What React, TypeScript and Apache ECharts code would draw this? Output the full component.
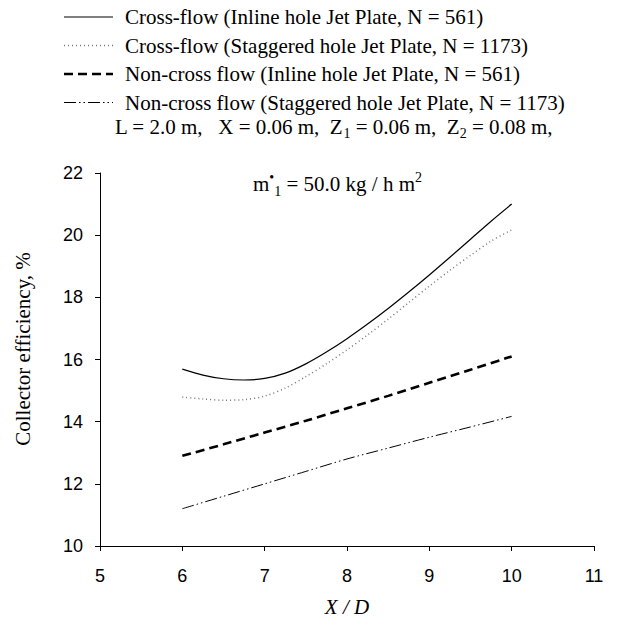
import React, { useEffect, useRef } from "react";
import * as echarts from "echarts";

// X/D positions for the two strongly curved cross-flow series
const xFine = [6, 6.25, 6.5, 6.75, 7, 7.25, 7.5, 7.75, 8, 8.25, 8.5, 8.75, 9, 9.25, 9.5, 9.75, 10];
// X/D positions for the nearly straight non-cross flow series
const xCoarse = [6, 6.5, 7, 7.5, 8, 8.5, 9, 9.5, 10];

// Collector efficiency (%) for each configuration
const crossInline = [15.69, 15.5, 15.38, 15.34, 15.39, 15.56, 15.86, 16.24, 16.67, 17.14, 17.64, 18.17, 18.72, 19.29, 19.87, 20.45, 21.0];
const crossStaggered = [14.79, 14.73, 14.69, 14.71, 14.82, 15.08, 15.45, 15.86, 16.31, 16.79, 17.3, 17.83, 18.36, 18.87, 19.35, 19.81, 20.17];
const nonCrossInline = [12.9, 13.27, 13.65, 14.03, 14.43, 14.83, 15.25, 15.67, 16.1];
const nonCrossStaggered = [11.2, 11.6, 12.0, 12.4, 12.8, 13.15, 13.5, 13.83, 14.17];

const seriesNames = [
  "Cross-flow (Inline hole Jet Plate, N = 561)",
  "Cross-flow (Staggered hole Jet Plate, N = 1173)",
  "Non-cross flow (Inline hole Jet Plate, N = 561)",
  "Non-cross flow (Staggered hole Jet Plate, N = 1173)",
];

const serif = "'Liberation Serif', 'Times New Roman', serif";
const sans = "'Liberation Sans', Arial, sans-serif";

const styles = [
  { color: "#000", width: 1.2, dash: null as number[] | null },
  { color: "#777", width: 1.5, dash: [1, 3] },
  { color: "#000", width: 2.6, dash: [9, 5] },
  { color: "#000", width: 1, dash: [12, 3, 1.5, 3, 1.5, 3] },
];

const pairs = (xs: number[], ys: number[]) => xs.map((x, i) => [x, ys[i]]);

export default function App() {
  const ref = useRef<HTMLDivElement>(null);

  useEffect(() => {
    if (!ref.current) return;
    const chart = echarts.init(ref.current, null, { renderer: "svg" });

    const rich = {
      n: { fontFamily: serif, fontSize: 21, lineHeight: 28, color: "#000" },
      sub: { fontFamily: serif, fontSize: 14, lineHeight: 14, verticalAlign: "bottom", color: "#000" },
      sup: { fontFamily: serif, fontSize: 14, lineHeight: 14, verticalAlign: "top", color: "#000" },
    };

    const datasets = [
      pairs(xFine, crossInline),
      pairs(xFine, crossStaggered),
      pairs(xCoarse, nonCrossInline),
      pairs(xCoarse, nonCrossStaggered),
    ];

    // Legend drawn as line samples followed by labels
    const legendRows: any[] = [];
    const rowY = [17, 45.5, 74, 102.5];
    seriesNames.forEach((name, i) => {
      const s = styles[i];
      legendRows.push({
        type: "line",
        shape: { x1: 64, y1: rowY[i], x2: 113, y2: rowY[i] },
        style: {
          stroke: s.color,
          lineWidth: s.width,
          lineDash: s.dash || undefined,
        },
      });
      legendRows.push({
        type: "text",
        x: 125,
        y: rowY[i],
        style: {
          text: name,
          fontFamily: serif,
          fontSize: 21,
          fill: "#000",
          verticalAlign: "middle",
          align: "left",
        },
      });
    });

    chart.setOption({
      animation: false,
      backgroundColor: "#fff",
      grid: { left: 100, right: 24, top: 173, bottom: 79, containLabel: false },
      xAxis: {
        type: "value",
        min: 5,
        max: 11,
        interval: 1,
        name: "X / D",
        nameLocation: "middle",
        nameGap: 50,
        nameTextStyle: { fontFamily: serif, fontSize: 21, fontStyle: "italic", color: "#000" },
        axisLine: { lineStyle: { color: "#000", width: 1 } },
        axisTick: { show: true, length: 5, inside: false, lineStyle: { color: "#000" } },
        axisLabel: { fontFamily: sans, fontSize: 18, color: "#000", margin: 21 },
        splitLine: { show: false },
      },
      yAxis: {
        type: "value",
        min: 10,
        max: 22,
        interval: 2,
        axisLine: { show: true, lineStyle: { color: "#000", width: 1 } },
        axisTick: { show: true, length: 5, inside: false, lineStyle: { color: "#000" } },
        axisLabel: { fontFamily: sans, fontSize: 18, color: "#000", margin: 17 },
        splitLine: { show: false },
      },
      series: seriesNames.map((name, i) => ({
        name,
        type: "line",
        data: datasets[i],
        smooth: 0.3,
        showSymbol: false,
        symbol: "none",
        lineStyle: {
          color: styles[i].color,
          width: styles[i].width,
          type: styles[i].dash || "solid",
        },
      })),
      graphic: [
        ...legendRows,
        {
          type: "text",
          x: 23,
          y: 349,
          rotation: Math.PI / 2,
          style: {
            text: "Collector efficiency, %",
            fontFamily: serif,
            fontSize: 21,
            fill: "#000",
            align: "center",
            verticalAlign: "middle",
          },
        },
        {
          type: "text",
          left: 115,
          top: 116,
          style: {
            text: "{n|L = 2.0 m,   X = 0.06 m,  Z}{sub|1}{n| = 0.06 m,  Z}{sub|2}{n| = 0.08 m,}",
            rich,
          },
        },
        {
          type: "text",
          left: 253,
          top: 170,
          style: {
            text: "{n|m}{sup|•}{sub|1}{n| = 50.0 kg / h m}{sup|2}",
            rich,
          },
        },
      ],
    });

    return () => chart.dispose();
  }, []);

  return <div ref={ref} style={{ width: 618, height: 625, margin: -8 }} />;
}
